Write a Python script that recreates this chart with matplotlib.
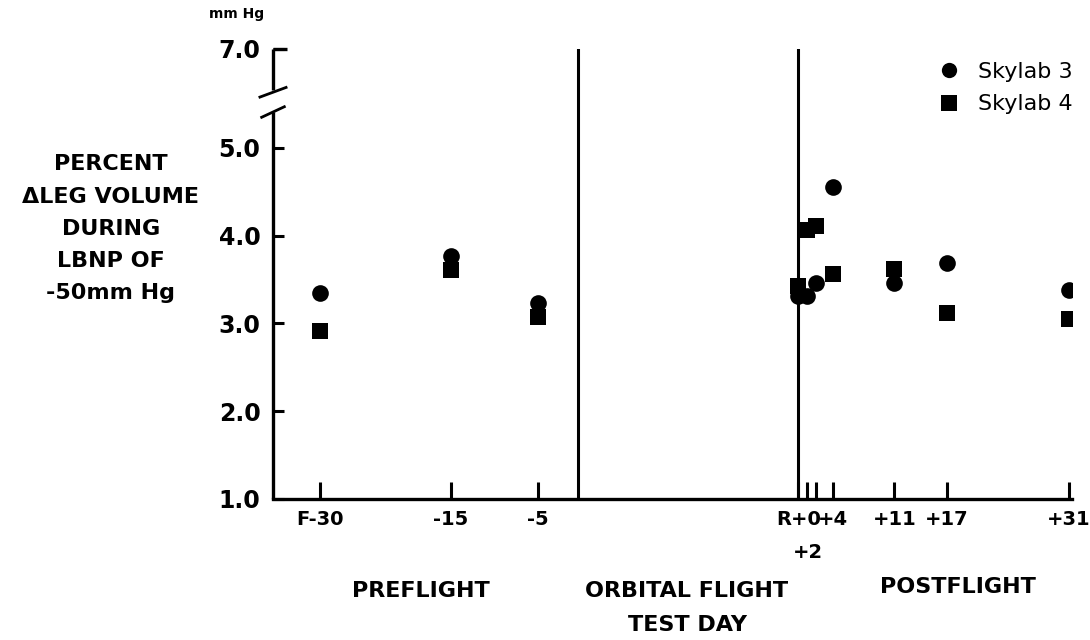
import matplotlib
matplotlib.use("Agg")
import matplotlib.pyplot as plt
from matplotlib.lines import Line2D

# ---- data ----
preflight_days = [-30, -15, -5]
preflight_labels = ["F-30", "-15", "-5"]
postflight_days = [0, 1, 2, 4, 11, 17, 31]
postflight_labels = ["R+0", "", "", "+4", "+11", "+17", "+31"]

skylab3_pre = [3.35, 3.77, 3.23]
skylab3_post = [3.31, 3.31, 3.46, 4.56, 3.46, 3.69, 3.38]
skylab4_pre = [2.91, 3.61, 3.07]
skylab4_post = [3.43, 4.07, 4.11, 3.56, 3.62, 3.12, 3.05]

y_ticks = [1.0, 2.0, 3.0, 4.0, 5.0]
y_tick_labels = ["1.0", "2.0", "3.0", "4.0", "5.0"]
Y_TOP = 6.128          # axis position where the broken scale shows 7.0
Y_TOP_LABEL = "7.0"

# ---- layout constants ----
R_OFFSET = 24.9        # axis position of recovery day (R+0)
LAUNCH_X = -0.45       # separator line at launch
XMIN, XMAX = -35.4, 56.3

FONT = "DejaVu Sans"
plt.rcParams["font.family"] = [FONT]

fig = plt.figure(figsize=(10.9, 6.4), dpi=100)
ax = fig.add_axes([273 / 1090, 1 - 499 / 640, (1072 - 273) / 1090, (499 - 49) / 640])

post_x = [R_OFFSET + d for d in postflight_days]

ms = 12
ax.plot(preflight_days, skylab4_pre, "s", color="black", ms=ms, mew=0, zorder=3)
ax.plot(post_x, skylab4_post, "s", color="black", ms=ms, mew=0, zorder=3)
ax.plot(preflight_days, skylab3_pre, "o", color="black", ms=ms, mew=0, zorder=3)
ax.plot(post_x, skylab3_post, "o", color="black", ms=ms, mew=0, zorder=3)

ax.set_xlim(XMIN, XMAX)
ax.set_ylim(1.0, Y_TOP)

# separator lines
ax.axvline(LAUNCH_X, color="black", lw=2.2, zorder=2)
ax.axvline(R_OFFSET, color="black", lw=2.2, zorder=2)

# spines
for s in ["top", "right", "left"]:
    ax.spines[s].set_visible(False)
ax.spines["bottom"].set_linewidth(2.4)

# x ticks
ax.set_xticks(preflight_days + post_x)
ax.set_xticklabels(preflight_labels + postflight_labels)
ax.tick_params(axis="x", direction="in", length=12, width=2.2, pad=8,
               labelsize=14)
for lab in ax.get_xticklabels():
    lab.set_fontweight("bold")
# the "+2" label sits below the +1/+2 ticks
ax.text(R_OFFSET + 1.15, -0.098, "+2", transform=ax.get_xaxis_transform(),
        ha="center", va="top", fontsize=14, fontweight="bold")

# y ticks
ax.set_yticks(y_ticks + [Y_TOP])
ax.set_yticklabels(y_tick_labels + [Y_TOP_LABEL])
ax.tick_params(axis="y", direction="in", length=8, width=2.2, pad=9,
               labelsize=17)
for lab in ax.get_yticklabels():
    lab.set_fontweight("bold")

# broken left axis
kw = dict(color="black", lw=2.4, clip_on=False, solid_capstyle="butt", zorder=4)
ax.plot([XMIN, XMIN], [1.0, 5.41], **kw)
ax.plot([XMIN, XMIN], [5.66, Y_TOP], **kw)
ax.plot([XMIN, XMIN + 1.65], [Y_TOP, Y_TOP], **kw)
ax.plot([XMIN - 1.5, XMIN + 1.5], [5.58, 5.69], color="black", lw=2.0, clip_on=False)
ax.plot([XMIN - 1.3, XMIN + 1.3], [5.35, 5.47], color="black", lw=2.0, clip_on=False)

# units label
fig.text(237 / 1090, 1 - 14 / 640, "mm Hg", ha="center", va="center",
         fontsize=10, fontweight="bold")

# y-axis label block
ylabel_lines = ["PERCENT", "\u0394LEG VOLUME", "DURING", "LBNP OF", "-50mm Hg"]
ylabel_y = [164, 197, 229, 261, 293]
for t, yy in zip(ylabel_lines, ylabel_y):
    fig.text(111 / 1090, 1 - yy / 640, t, ha="center", va="center",
             fontsize=16, fontweight="bold")

# phase labels
fig.text(421 / 1090, 1 - 591 / 640, "PREFLIGHT", ha="center", va="center",
         fontsize=16, fontweight="bold")
fig.text(687 / 1090, 1 - 591 / 640, "ORBITAL FLIGHT", ha="center", va="center",
         fontsize=16, fontweight="bold")
fig.text(687 / 1090, 1 - 625 / 640, "TEST DAY", ha="center", va="center",
         fontsize=16, fontweight="bold")
fig.text(958 / 1090, 1 - 587 / 640, "POSTFLIGHT", ha="center", va="center",
         fontsize=16, fontweight="bold")

# legend
handles = [
    Line2D([], [], marker="o", ls="", color="black", ms=11, mew=0),
    Line2D([], [], marker="s", ls="", color="black", ms=11, mew=0),
]
ax.legend(handles, ["Skylab 3", "Skylab 4"], loc="upper right",
          bbox_to_anchor=(1084 / 1090, 1 - 51 / 640), bbox_transform=fig.transFigure,
          frameon=False, borderpad=0, handlelength=1.0, handletextpad=0.8,
          labelspacing=0.55, fontsize=16)

fig.savefig("out.png", dpi=100)
